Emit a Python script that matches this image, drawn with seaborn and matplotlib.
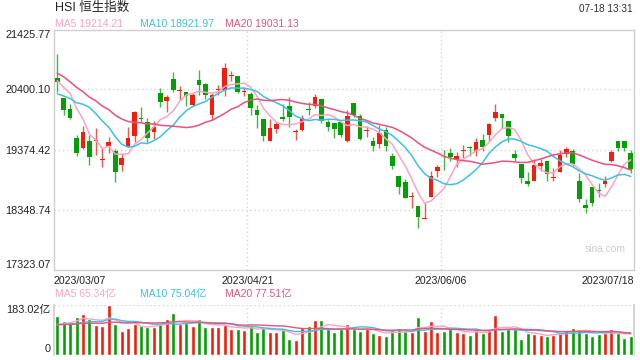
"""
HSI daily candlestick chart (2023/03/07 - 2023/07/18) with MA5/10/20
and a volume panel underneath, in the sina.com quote-page style.
"""

import matplotlib

matplotlib.use("Agg")
import matplotlib.pyplot as plt
import numpy as np
import pandas as pd
import seaborn as sns

# ---- data -----------------------------------------------------------------
# 19 closes before 2023/03/07, only used to warm up the moving averages
prior_closes = [21283, 21624, 21190, 21164, 21113, 20812, 20987, 20719, 20887, 20529,
                20423, 20351, 20010, 19943, 19786, 20619, 20429, 20567, 20603]
prior_volumes = [118, 105, 112, 98, 121, 109, 115, 102, 108, 125,
                 111, 97, 119, 106, 113, 104, 100, 106, 101]

opens = [20591, 20260, 20067, 19577, 19394, 19520, 19520, 19190, 19434, 19349,
         19109, 19423, 19611, 19912, 19839, 19679, 20346, 20204, 20580, 20375,
         20352, 20135, 20563, 20488, 19964, 20398, 20392, 20632, 20631, 20358,
         20323, 20050, 19896, 19525, 19725, 19924, 20118, 19674, 19708, 20055,
         20124, 20238, 19850, 19833, 19850, 19525, 20175, 19947, 19686, 19520,
         19468, 19708, 19269, 18921, 18813, 18557, 18409, 18193, 18568, 19013,
         19114, 19309, 19212, 19350, 19423, 19349, 19537, 19622, 19919, 19981,
         19862, 19298, 19127, 18836, 18842, 19098, 19178, 18888, 18996, 19292,
         19349, 18836, 18426, 18739, 18670, 18785, 19178, 19520, 19520, 19309]
highs = [21001, 20260, 20152, 19622, 19782, 19622, 19736, 19406, 19582, 19383,
         19309, 19765, 20038, 20107, 19919, 19867, 20420, 20306, 20705, 20466,
         20363, 20335, 20733, 20517, 20335, 20477, 20859, 20722, 20631, 20449,
         20363, 20135, 19896, 19896, 19839, 20152, 20278, 19719, 19964, 20192,
         20323, 20238, 19879, 19833, 19850, 20050, 20175, 19981, 19776, 19594,
         19793, 19753, 19309, 18921, 18870, 18654, 18409, 18466, 19013, 19109,
         19366, 19394, 19337, 19451, 19434, 19565, 19634, 19822, 20152, 19981,
         19862, 19366, 19127, 18984, 19206, 19206, 19178, 19053, 19366, 19423,
         19377, 18979, 18523, 18739, 18796, 18921, 19366, 19520, 19520, 19366]
lows = [20363, 19964, 19896, 19269, 19377, 19109, 19280, 19070, 19309, 18825,
        19013, 19411, 19508, 19850, 19508, 19548, 20107, 20010, 20352, 20221,
        20118, 20124, 20306, 20232, 19879, 20306, 20295, 20551, 20335, 20295,
        19964, 19736, 19525, 19520, 19651, 19867, 19753, 19537, 19696, 19964,
        20078, 19822, 19691, 19565, 19594, 19497, 19924, 19537, 19594, 19349,
        19406, 19355, 19041, 18614, 18540, 18369, 18038, 18186, 18557, 18899,
        19024, 19184, 19081, 19223, 19269, 19269, 19349, 19520, 19867, 19736,
        19508, 19184, 18796, 18756, 18842, 19013, 18836, 18836, 18996, 19252,
        19098, 18483, 18283, 18414, 18568, 18739, 19167, 19355, 19355, 18979]
closes = [20534, 20050, 19907, 19309, 19674, 19252, 19530, 19200, 19503, 18996,
          19229, 19565, 20021, 19902, 19565, 19753, 20192, 20272, 20392, 20385,
          20289, 20306, 20477, 20306, 20306, 20408, 20762, 20642, 20363, 20368,
          20078, 19964, 19611, 19736, 19810, 19896, 19936, 19684, 19919, 20045,
          20266, 19867, 19753, 19725, 19622, 19947, 19964, 19554, 19696, 19440,
          19662, 19434, 19092, 18739, 18551, 18567, 18226, 18203, 18921, 19070,
          19104, 19252, 19269, 19360, 19406, 19497, 19411, 19810, 20010, 19919,
          19611, 19224, 18893, 18785, 19109, 19149, 18950, 18898, 19280, 19383,
          19127, 18528, 18369, 18466, 18660, 18836, 19332, 19394, 19394, 19036]
# turnover, 100 million (亿)
volumes = [142.2, 123.7, 115.0, 137.3, 149.6, 131.1, 108.8, 105.1, 183.0, 112.5,
           86.6, 96.5, 112.5, 110.1, 102.6, 102.6, 112.5, 131.1, 154.6, 112.5,
           117.5, 105.1, 129.8, 102.6, 102.6, 102.6, 108.8, 94.0, 94.0, 90.3,
           108.8, 84.1, 98.9, 81.6, 81.6, 96.5, 56.9, 53.2, 100.2, 105.1,
           127.4, 127.4, 94.0, 84.1, 92.7, 112.5, 94.0, 86.6, 92.7, 80.4,
           71.7, 68.0, 90.3, 98.9, 86.6, 84.1, 139.7, 87.8, 124.9, 84.1,
           87.8, 92.7, 84.1, 80.4, 71.7, 90.3, 80.4, 94.0, 145.9, 87.8,
           92.7, 92.7, 56.9, 80.4, 75.4, 71.7, 68.0, 71.7, 84.1, 90.3,
           98.9, 94.0, 80.4, 68.0, 75.4, 77.9, 94.0, 77.9, 60.0, 68.0]

price_ticks = [17323.07, 18348.74, 19374.42, 20400.10, 21425.77]
vol_max = 183.02
date_labels = ["2023/03/07", "2023/04/21", "2023/06/06", "2023/07/18"]
date_pos = [-0.5, 29.5, 59.5, 89.5]
ma_price_labels = ["MA5 19214.21", "MA10 18921.97", "MA20 19031.13"]
ma_vol_labels = ["MA5 65.34亿", "MA10 75.04亿", "MA20 77.51亿"]

# ---- style -----------------------------------------------------------------
UP, DOWN = "#f41d0b", "#02a002"
MA_COLORS = ["#ffa3c2", "#38c3e4", "#ef4f7f"]
FRAME = "#cfcfcf"
GRID = "#d6d6d6"
W, H = 640, 360

sns.set_theme(style="white")
plt.rcParams["font.family"] = ["Liberation Sans", "Noto Sans CJK SC", "DejaVu Sans"]


def fx(px):
    return px / W


def fy(py):
    return 1 - py / H


def moving_averages(prior, values):
    s = pd.Series(list(prior) + list(values), dtype=float)
    return [s.rolling(n).mean().to_numpy()[len(prior):] for n in (5, 10, 20)]


def dotted(**kw):
    return dict(color=GRID, lw=1.0, linestyle=(0, (1, 2)), **kw)


idx = np.arange(len(closes))
o, h, l, c = (np.asarray(a, float) for a in (opens, highs, lows, closes))
is_up = c >= o
colors = np.where(is_up, UP, DOWN)

fig = plt.figure(figsize=(W / 100, H / 100), dpi=100)
ax = fig.add_axes([fx(54), fy(269.5), fx(580), 240 / H])
axv = fig.add_axes([fx(54), fy(354.5), fx(580), 49.5 / H])

# ---- price panel -------------------------------------------------------------
for x in date_pos[1:3]:
    ax.axvline(x, zorder=0, **dotted())
for y in price_ticks[1:4]:
    ax.axhline(y, zorder=0, **dotted())

ax.vlines(idx, l, h, colors=colors, lw=1.0, alpha=0.75, zorder=2)
body_lo = np.minimum(o, c)
body_h = np.maximum(np.abs(c - o), 14)
ax.bar(idx, body_h, bottom=body_lo, width=0.74, color=colors, lw=0, zorder=3)

for ma, col in zip(moving_averages(prior_closes, closes), MA_COLORS):
    sns.lineplot(x=idx, y=ma, color=col, lw=1.1, ax=ax, zorder=4)

ax.set_xlim(-0.5, len(closes) - 0.5)
ax.set_ylim(price_ticks[0], price_ticks[-1])
ax.set_yticks(price_ticks)
ax.set_yticklabels([f"{v:.2f}" for v in price_ticks])
ax.set_xticks(date_pos)
ax.set_xticklabels(date_labels)
ax.tick_params(axis="y", length=0, pad=2.5, labelsize=7.8, labelcolor="#222222")
ax.tick_params(axis="x", length=0, pad=4.5, labelsize=7.6, labelcolor="#222222")
ylabels = ax.get_yticklabels()
ylabels[0].set_va("bottom")
ylabels[-1].set_va("top")
for lab, ha in zip(ax.get_xticklabels(), ["left", "center", "center", "right"]):
    lab.set_ha(ha)
for sp in ax.spines.values():
    sp.set_color(FRAME)
    sp.set_linewidth(1.0)
ax.text(0.985, 0.085, "sina.com", transform=ax.transAxes, ha="right", va="center",
        fontsize=7.4, color="#cccccc")
ax.set_xlabel("")
ax.set_ylabel("")

# ---- volume panel ------------------------------------------------------------
vol_df = pd.DataFrame({"i": idx, "vol": volumes, "dir": np.where(is_up, "up", "down")})
sns.barplot(data=vol_df, x="i", y="vol", hue="dir", palette={"up": UP, "down": DOWN},
            dodge=False, legend=False, width=0.62, saturation=1, ax=axv, zorder=3)
for ma, col in zip(moving_averages(prior_volumes, volumes), MA_COLORS):
    sns.lineplot(x=idx, y=ma, color=col, lw=1.0, ax=axv, zorder=4)

for x in date_pos[1:3]:
    axv.axvline(x, zorder=0, **dotted())
axv.axhline(vol_max, zorder=1, **dotted())
axv.axhline(0, zorder=1, **dotted())
axv.set_xlim(-0.5, len(closes) - 0.5)
axv.set_ylim(0, vol_max)
axv.set_xticks([])
axv.set_yticks([0, vol_max])
axv.set_yticklabels(["0", f"{vol_max:.2f}亿"])
axv.tick_params(axis="y", length=0, pad=2.5, labelsize=7.8, labelcolor="#222222")
vlabels = axv.get_yticklabels()
vlabels[0].set_va("bottom")
vlabels[1].set_va("top")
axv.set_xlabel("")
axv.set_ylabel("")
for name, sp in axv.spines.items():
    sp.set_color(FRAME)
    sp.set_visible(name in ("left", "right"))

# ---- header texts --------------------------------------------------------------
fig.text(fx(55), fy(8), "HSI 恒生指数", fontsize=9, color="#222222", va="center")
fig.text(fx(633), fy(8.5), "07-18 13:31", fontsize=7.2, color="#333333", ha="right", va="center")
for x0, txt, col in zip([55, 140, 225], ma_price_labels, MA_COLORS):
    fig.text(fx(x0), fy(24), txt, fontsize=7.5, color=col, va="center")
for x0, txt, col in zip([55, 140, 225], ma_vol_labels, MA_COLORS):
    fig.text(fx(x0), fy(294), txt, fontsize=7.5, color=col, va="center")

fig.savefig("out.png", dpi=100)
plt.close(fig)
